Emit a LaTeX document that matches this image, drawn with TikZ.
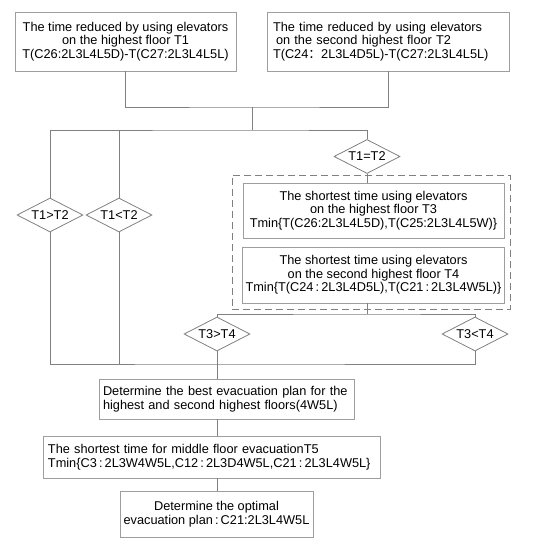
\documentclass[tikz,border=0pt]{standalone}
\usepackage{fontspec}
\setmainfont{Liberation Sans}
\newfontfamily\cjk{Noto Sans CJK SC}
\usetikzlibrary{shapes.geometric}
\begin{document}
\begin{tikzpicture}[x=1bp,y=-1bp]
\tikzstyle{box} = [rectangle, draw=black!38, line width=0.8bp, inner sep=3bp, font=\fontsize{12.8}{13.6}\selectfont]
\tikzstyle{decision} = [diamond, aspect=2, draw=black!50, line width=0.8bp, inner sep=0pt, minimum width=66bp, minimum height=34bp, font=\fontsize{12.8}{13.6}\selectfont]
\tikzstyle{group} = [rectangle, draw=black!50, line width=0.9bp, dash pattern=on 7bp off 4bp]
\tikzstyle{line} = [draw=black!50, line width=0.8bp]

\useasboundingbox (0,0) rectangle (550,547);

%nodes
\node (floorA) [box, minimum width=221bp, minimum height=59bp, align=center] at (125.5,41.5)
  {The time reduced by using elevators\\on the highest floor T1\\T(C26:2L3L4L5D)-T(C27:2L3L4L5L)};
\node (floorB) [box, inner xsep=6bp, text width=230bp, minimum height=59bp, align=left] at (388,41.5)
  {The time reduced by using elevators\\\hspace{3bp}on the second highest floor T2\\T(C24{\cjk ：}2L3L4D5L)-T(C27:2L3L4L5L)};

\node (bigger) [decision] at (50,215) {T1>T2};
\node (smaller) [decision] at (119,215) {T1<T2};
\node (equal) [decision] at (367,156.5) {T1=T2};

\node (group) [group, minimum width=278bp, minimum height=134bp] at (371,242) {};
\node (shortA) [box, minimum width=261bp, minimum height=55bp, align=center] at (373.5,210.5)
  {The shortest time using elevators\\on the highest floor T3\\Tmin\{T(C26:2L3L4L5D),T(C25:2L3L4L5W)\}};
\node (shortB) [box, minimum width=261bp, minimum height=56bp, align=center] at (373.5,275)
  {The shortest time using elevators\\on the second highest floor T4\\Tmin\{T(C24\,:\,2L3L4D5L),T(C21\,:\,2L3L4W5L)\}};

\node (moreT) [decision] at (217,334) {T3>T4};
\node (lessT) [decision] at (475,334) {T3<T4};

\node (bestplan) [box, inner xsep=4bp, text width=247bp, minimum height=40bp, align=left] at (226.5,399)
  {Determine the best evacuation plan for the\\highest and second highest floors(4W5L)};
\node (middle) [box, inner xsep=5bp, text width=327bp, minimum height=42bp, align=left] at (211.5,457)
  {The shortest time for middle floor evacuationT5\\Tmin\{C3\,:\,2L3W4W5L,C12\,:\,2L3D4W5L,C21\,:\,2L3L4W5L\}};
\node (optimal) [box, minimum width=193bp, minimum height=46bp, align=center] at (216.5,514)
  {Determine the optimal\\evacuation plan\,:\,C21:2L3L4W5L};

\coordinate (join) at (252,107);
\coordinate (split) at (252,130);
\coordinate (splitB) at (367,314);
\coordinate (merge) at (217,364);

%lines
\draw [line] (floorA.south) |- (join) -| (floorB.south);
\draw [line] (join) -- (split);
\draw [line] (bigger.north) |- (split) -| (equal.north);
\draw [line] (smaller.north) -- (smaller.north |- split);
\draw [line] (equal.south) -- (shortA.north -| equal.south);
\draw [line] (shortB.south -| splitB) -- (splitB);
\draw [line] (moreT.north) |- (splitB) -| (lessT.north);
\draw [line] (bigger.south) |- (merge) -| (lessT.south);
\draw [line] (smaller.south) -- (smaller.south |- merge);
\draw [line] (moreT.south) -- (moreT.south |- bestplan.north);
\draw [line] (moreT.south |- bestplan.south) -- (moreT.south |- middle.north);
\draw [line] (moreT.south |- middle.south) -- (moreT.south |- optimal.north);

\end{tikzpicture}
\end{document}
